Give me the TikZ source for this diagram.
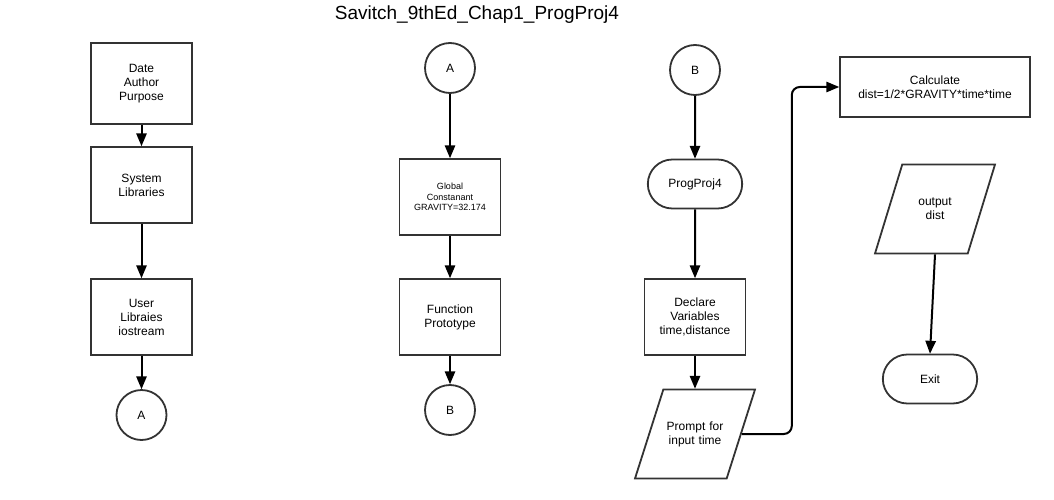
\documentclass[tikz,border=0pt]{standalone}
\usepackage{fontspec}
\setmainfont{Liberation Sans}
\usepackage{tikz}
\usetikzlibrary{shapes.geometric,shapes.misc,arrows,positioning,calc}
\definecolor{edge}{rgb}{0.2,0.2,0.2}
\tikzstyle{startstop} = [rounded rectangle, minimum width = 101pt, minimum height = 49pt, text centered, line width = 1.8pt, draw = edge]
\tikzstyle{connector} = [circle, minimum size = 50pt, inner sep = 0pt, line width = 1.8pt, draw = edge]
\tikzstyle{io} = [trapezium, trapezium left angle = 72, trapezium right angle = 108, trapezium stretches body = true, inner xsep = 0pt, inner ysep = 31pt, minimum width = 120pt, minimum height = 89pt, text centered, text width = 60pt, line width = 1.8pt, draw = edge]
\tikzstyle{process} = [rectangle, minimum width = 101pt, minimum height = 76pt, text centered, text width = 90pt, line width = 1.8pt, draw = edge]
\tikzstyle{arrow} = [line width = 2pt, ->, > = triangle 45]

\begin{document}
\begin{tikzpicture}[every node/.style={font=\fontsize{12}{14}\selectfont}]
    \useasboundingbox (0,0) rectangle (1054pt,-500pt);
    \node (title) at (477pt,-15pt) [font=\fontsize{19}{22}\selectfont] {Savitch\_9thEd\_Chap1\_ProgProj4};

    % first column
    \node (date) at (141.5pt,-83.5pt) [process, minimum height = 81pt] {Date\\ Author\\ Purpose};
    \node (syslib) [process, below of=date, node distance=101.5pt] {System\\ Libraries};
    \node (userlib) [process, below of=syslib, node distance=132pt] {User\\ Libraies\\ iostream};
    \node (con-a1) [connector, below of=userlib, node distance=98pt] {A};

    % second column
    \node (con-a2) [connector, right of=date, node distance=308.5pt, yshift=15.5pt] {A};
    \node (global) [process, below of=con-a2, node distance=129pt, font=\fontsize{9}{10.5}\selectfont] {Global\\ Constanant\\ GRAVITY=32.174};
    \node (proto) [process, below of=global, node distance=120pt] {Function\\ Prototype};
    \node (con-b1) [connector, below of=proto, node distance=93pt] {B};

    % third column
    \node (con-b2) [connector, right of=con-a2, node distance=245pt, yshift=-2pt] {B};
    \node (prog) [startstop, below of=con-b2, node distance=114pt] {ProgProj4};
    \node (declare) [process, below of=prog, node distance=133pt] {Declare\\ Variables\\ time,distance};
    \node (prompt) [io, below of=declare, node distance=117pt] {Prompt for\\ input time};

    % fourth column
    \node (calc) [process, right of=con-b2, node distance=240pt, yshift=-17pt, minimum width = 190pt, minimum height = 60pt, text width = 180pt] {Calculate\\ dist=1/2*GRAVITY*time*time};
    \node (output) [io, below of=calc, node distance=122pt] {output\\ dist};
    \node (exit) [startstop, below of=output, node distance=170pt, xshift=-5pt] {Exit};
    \coordinate (bend) at ($(prompt.east)+(50pt,0)$);

    \draw [arrow] (date) -- (syslib);
    \draw [arrow] (syslib) -- (userlib);
    \draw [arrow] (userlib) -- (con-a1);

    \draw [arrow] (con-a2) -- (global);
    \draw [arrow] (global) -- (proto);
    \draw [arrow] (proto) -- (con-b1);

    \draw [arrow] (con-b2) -- (prog);
    \draw [arrow] (prog) -- (declare);
    \draw [arrow] (declare) -- (prompt);
    \draw [arrow, rounded corners=8pt] (prompt.east) -| (bend |- calc.west) -- (calc.west);

    \draw [arrow] (output.south) -- (exit.north);
\end{tikzpicture}
\end{document}
